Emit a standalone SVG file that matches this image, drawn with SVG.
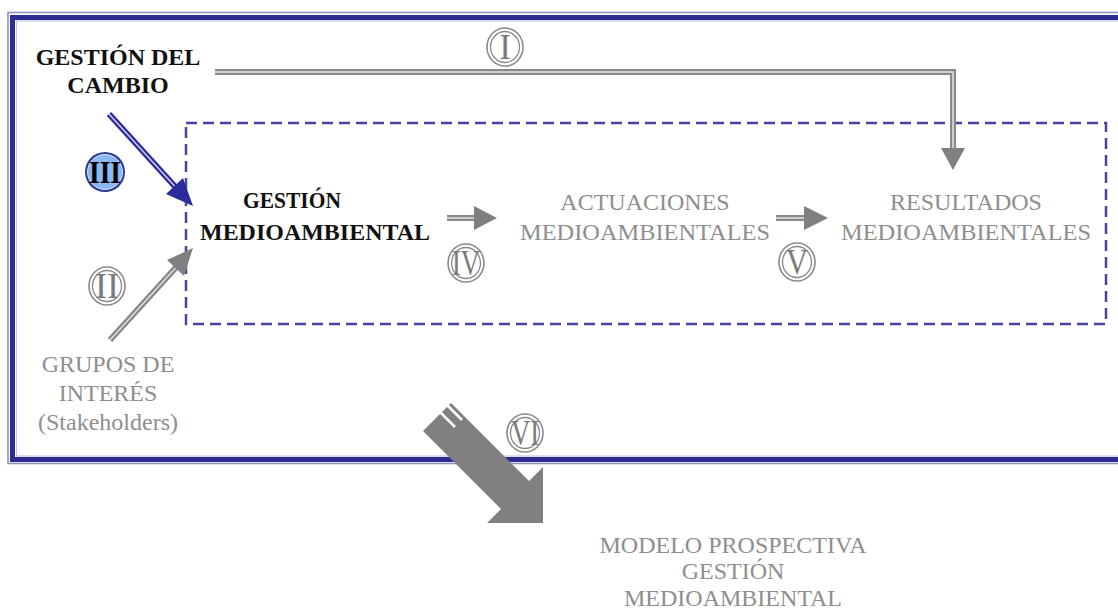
<svg xmlns="http://www.w3.org/2000/svg" width="1118" height="610" viewBox="0 0 1118 610">
<style>
text{font-family:"Liberation Serif","DejaVu Serif","Noto Serif","Times New Roman",serif}
.t{text-anchor:middle}
.b{font-weight:bold;fill:#111}
.g{fill:#8e8e8e}
.num{text-anchor:middle;fill:#7a7a7a;font-size:35px}
.ring{fill:#fff;stroke:#8a8a8a;stroke-width:1.6}
.ir{fill:none;stroke:#8a8a8a;stroke-width:1.3}
.gl{stroke:#888;stroke-width:6;fill:none}
.gw{stroke:#e4e4e4;stroke-width:1.5;fill:none}
</style>
<rect width="1118" height="610" fill="#fff"/>
<g id="frame">
<rect x="8" y="12.5" width="1130" height="451" fill="none" stroke="#9090c8" stroke-width="1.6"/>
<rect x="12.5" y="17.5" width="1130" height="442" fill="none" stroke="#2c2c90" stroke-width="5"/>
<rect x="16.5" y="21" width="1130" height="435" fill="none" stroke="#c4c4e6" stroke-width="1.2"/>
</g>
<g id="gm-box">
<rect x="186" y="123" width="920" height="201" fill="none" stroke="#4646a0" stroke-width="2.5" stroke-dasharray="11,6"/>
</g>
<g id="connectors">
<path class="gl" d="M215,72 H953 V150"/>
<path class="gw" d="M215,72 H953 V150"/>
<path d="M941,148 L965,148 L953,170 Z" fill="#808080"/>
<line x1="109" y1="114" x2="180" y2="192" stroke="#2c2c9a" stroke-width="6"/>
<line x1="109" y1="114" x2="180" y2="192" stroke="#d8d8f4" stroke-width="1.3"/>
<path d="M193,206 L166,194 L183,178 Z" fill="#2c2c9a"/>
<line x1="110" y1="340" x2="180" y2="263" stroke="#888" stroke-width="6"/>
<line x1="110" y1="340" x2="180" y2="263" stroke="#e4e4e4" stroke-width="1.3"/>
<path d="M193,248 L184,276 L167,260 Z" fill="#808080"/>
<line x1="447" y1="218" x2="476" y2="218" class="gl"/>
<line x1="447" y1="218" x2="476" y2="218" class="gw"/>
<path d="M474,206 L497,218 L474,230 Z" fill="#808080"/>
<line x1="776" y1="218" x2="806" y2="218" class="gl"/>
<line x1="776" y1="218" x2="806" y2="218" class="gw"/>
<path d="M804,206 L828,218 L804,230 Z" fill="#808080"/>
<path d="M451,403 L529,481 L543,467 L543,523 L487,523 L501,509 L423,431 Z" fill="#808080"/>
<line x1="427" y1="399" x2="455" y2="427" stroke="#fff" stroke-width="2.5"/>
<line x1="434" y1="392" x2="462" y2="420" stroke="#fff" stroke-width="2.5"/>
</g>
<g id="gestion-cambio">
<text class="t b" font-size="24" x="118" y="65">GESTIÓN DEL</text>
<text class="t b" font-size="24" x="118" y="93">CAMBIO</text>
</g>
<g id="gestion-ma">
<text class="t b" font-size="23" x="292" y="208" textLength="98" lengthAdjust="spacingAndGlyphs">GESTIÓN</text>
<text class="t b" font-size="23" x="315" y="240" textLength="230" lengthAdjust="spacingAndGlyphs">MEDIOAMBIENTAL</text>
</g>
<g id="actuaciones">
<text class="t g" font-size="24" x="645" y="210">ACTUACIONES</text>
<text class="t g" font-size="24" x="645" y="240" textLength="250" lengthAdjust="spacingAndGlyphs">MEDIOAMBIENTALES</text>
</g>
<g id="resultados">
<text class="t g" font-size="24" x="966" y="210">RESULTADOS</text>
<text class="t g" font-size="24" x="966" y="240" textLength="250" lengthAdjust="spacingAndGlyphs">MEDIOAMBIENTALES</text>
</g>
<g id="grupos">
<text class="t g" font-size="24" x="108" y="372">GRUPOS DE</text>
<text class="t g" font-size="24" x="108" y="401">INTERÉS</text>
<text class="t g" font-size="24" x="108" y="430">(Stakeholders)</text>
</g>
<g id="modelo">
<text class="t g" font-size="24" x="733" y="553">MODELO PROSPECTIVA</text>
<text class="t g" font-size="24" x="733" y="579">GESTIÓN</text>
<text class="t g" font-size="24" x="733" y="606">MEDIOAMBIENTAL</text>
</g>
<g id="badge-I">
<ellipse class="ring" cx="505" cy="47" rx="18" ry="19"/>
<ellipse class="ir" cx="505" cy="47" rx="14.5" ry="15.5"/>
<text class="num" x="505" y="59">I</text>
</g>
<g id="badge-II">
<ellipse class="ring" cx="107" cy="286" rx="18" ry="19"/>
<ellipse class="ir" cx="107" cy="286" rx="14.5" ry="15.5"/>
<text class="num" x="107" y="298" textLength="24" lengthAdjust="spacingAndGlyphs">II</text>
</g>
<g id="badge-III">
<ellipse cx="105" cy="172" rx="20" ry="20" fill="#2e3a98"/>
<ellipse cx="105" cy="172" rx="17.5" ry="17.5" fill="#8ab8f0" stroke="#d8e8ff" stroke-width="1"/>
<text class="t" x="105" y="183" font-size="31" font-weight="bold" fill="#000" textLength="32" lengthAdjust="spacingAndGlyphs">III</text>
</g>
<g id="badge-IV">
<ellipse class="ring" cx="466" cy="263" rx="18" ry="19"/>
<ellipse class="ir" cx="466" cy="263" rx="14.5" ry="15.5"/>
<text class="num" x="466" y="275" textLength="28" lengthAdjust="spacingAndGlyphs">IV</text>
</g>
<g id="badge-V">
<ellipse class="ring" cx="797" cy="262" rx="18" ry="19"/>
<ellipse class="ir" cx="797" cy="262" rx="14.5" ry="15.5"/>
<text class="num" x="797" y="274" textLength="22" lengthAdjust="spacingAndGlyphs">V</text>
</g>
<g id="badge-VI">
<ellipse class="ring" cx="525" cy="433" rx="18" ry="19"/>
<ellipse class="ir" cx="525" cy="433" rx="14.5" ry="15.5"/>
<text class="num" x="525" y="445" textLength="28" lengthAdjust="spacingAndGlyphs">VI</text>
</g>
</svg>
